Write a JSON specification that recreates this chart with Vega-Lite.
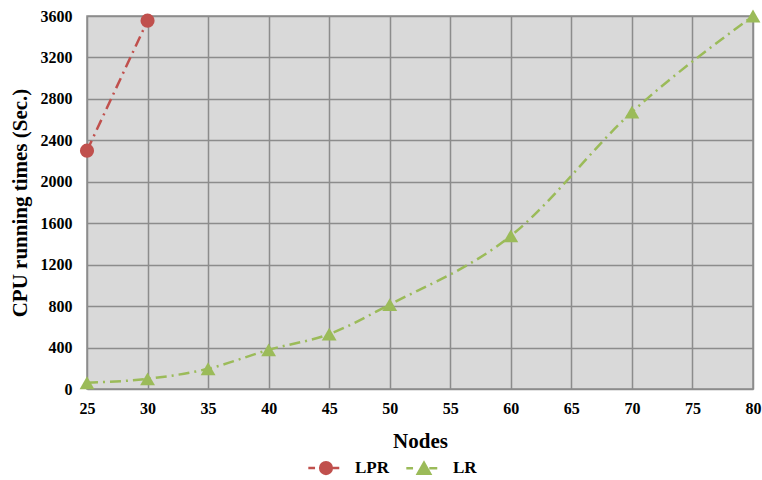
{
  "$schema": "https://vega.github.io/schema/vega-lite/v6.json",
  "width": 666,
  "height": 373,
  "autosize": {"type": "none"},
  "padding": {"left": 87, "top": 16, "right": 9, "bottom": 91},
  "background": "white",
  "config": {
    "font": "Liberation Serif",
    "view": {"fill": "#d9d9d9", "stroke": "#8c8c8c", "strokeWidth": 1.5},
    "axis": {
      "labelFont": "Liberation Serif",
      "labelFontWeight": "bold",
      "labelFontSize": 16,
      "labelColor": "#000000",
      "labelFlush": false,
      "format": "d",
      "titleFont": "Liberation Serif",
      "titleFontWeight": "bold",
      "titleFontSize": 21,
      "titleColor": "#000000",
      "gridColor": "#8c8c8c",
      "gridWidth": 1.5,
      "gridOpacity": 1,
      "domain": false,
      "ticks": false
    }
  },
  "data": {
    "values": [
      {"Nodes": 25, "Time": 2300, "Series": "LPR"},
      {"Nodes": 30, "Time": 3555, "Series": "LPR"},
      {"Nodes": 25, "Time": 60, "Series": "LR"},
      {"Nodes": 30, "Time": 98, "Series": "LR"},
      {"Nodes": 35, "Time": 195, "Series": "LR"},
      {"Nodes": 40, "Time": 378, "Series": "LR"},
      {"Nodes": 45, "Time": 530, "Series": "LR"},
      {"Nodes": 50, "Time": 815, "Series": "LR"},
      {"Nodes": 60, "Time": 1478, "Series": "LR"},
      {"Nodes": 70, "Time": 2672, "Series": "LR"},
      {"Nodes": 80, "Time": 3600, "Series": "LR"}
    ]
  },
  "encoding": {
    "x": {
      "field": "Nodes",
      "type": "quantitative",
      "scale": {"domain": [25, 80], "nice": false, "zero": false},
      "axis": {"values": [25, 30, 35, 40, 45, 50, 55, 60, 65, 70, 75, 80], "labelPadding": 11, "title": "Nodes", "titlePadding": 14}
    },
    "y": {
      "field": "Time",
      "type": "quantitative",
      "scale": {"domain": [0, 3600], "nice": false},
      "axis": {"values": [0, 400, 800, 1200, 1600, 2000, 2400, 2800, 3200, 3600], "labelPadding": 15, "title": "CPU running times (Sec.)", "titlePadding": 10}
    },
    "color": {
      "field": "Series",
      "type": "nominal",
      "scale": {"domain": ["LPR", "LR"], "range": ["#c0504d", "#9bbb59"]},
      "legend": {
        "orient": "none",
        "legendX": 220,
        "legendY": 433,
        "direction": "horizontal",
        "title": null,
        "labelFont": "Liberation Serif",
        "labelFontWeight": "bold",
        "labelFontSize": 17,
        "labelColor": "#000000",
        "symbolSize": 1250,
        "symbolStrokeWidth": 2.5,
        "columnPadding": 12,
        "labelOffset": 10,
        "encode": {
          "symbols": {
            "update": {
              "shape": {"signal": "datum.value === 'LPR' ? 'M-1,0H-0.62M0.3,0H0.75M-0.33,0A0.33,0.33 0 1,1 0.33,0A0.33,0.33 0 1,1 -0.33,0Z' : 'M-1,0H-0.62M0.3,0H0.75M-0.35,0.3L0,-0.32L0.35,0.3Z'"},
              "fillOpacity": {"value": 1}
            }
          }
        }
      }
    }
  },
  "layer": [
    {
      "mark": {"type": "line", "interpolate": "monotone", "strokeWidth": 2.5, "strokeDash": [11, 5, 2, 5]}
    },
    {
      "transform": [{"filter": "datum.Series === 'LPR'"}],
      "mark": {"type": "point", "shape": "circle", "filled": true, "opacity": 1, "size": 200}
    },
    {
      "transform": [{"filter": "datum.Series === 'LR'"}],
      "mark": {"type": "point", "shape": "triangle-up", "filled": true, "opacity": 1, "size": 220}
    }
  ]
}
